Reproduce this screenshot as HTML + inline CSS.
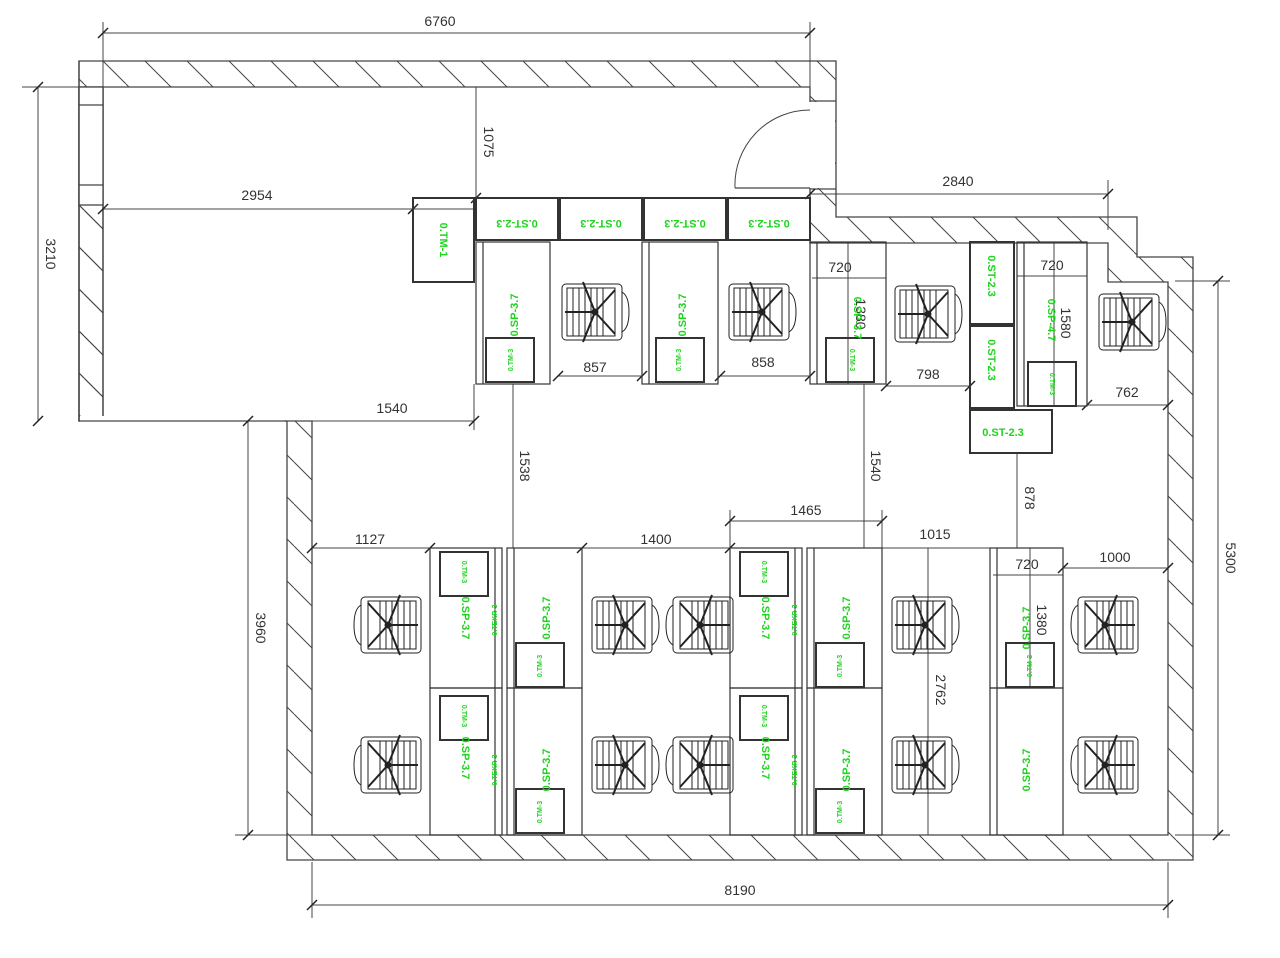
<!DOCTYPE html>
<html><head><meta charset="utf-8"><style>
html,body{margin:0;padding:0;background:#fff;}
svg{display:block}
text{font-family:"Liberation Sans",sans-serif;}
.d{font-size:14px;fill:#333}
.g{font-size:11px;fill:#1fd31f;font-weight:bold}
.gs{font-size:7px;fill:#1fd31f;font-weight:bold}
</style></head><body>
<svg width="1280" height="958" viewBox="0 0 1280 958" xmlns="http://www.w3.org/2000/svg">
<defs>
<pattern id="h" width="42" height="42" patternUnits="userSpaceOnUse">
<line x1="0" y1="0" x2="42" y2="42" stroke="#444" stroke-width="1"/>
<line x1="-42" y1="0" x2="0" y2="42" stroke="#444" stroke-width="1"/>
<line x1="42" y1="0" x2="84" y2="42" stroke="#444" stroke-width="1"/>
</pattern>
<g id="ch" stroke="#222" fill="none" stroke-width="1">
<rect x="-33" y="-28" width="60" height="56" rx="4"/>
<rect x="-28" y="-24" width="48" height="48"/>
<line x1="-22" y1="-24" x2="-22" y2="24"/><line x1="-16" y1="-24" x2="-16" y2="24"/>
<line x1="-10" y1="-24" x2="-10" y2="24"/><line x1="-4" y1="-24" x2="-4" y2="24"/>
<line x1="2" y1="-24" x2="2" y2="24"/><line x1="8" y1="-24" x2="8" y2="24"/>
<path d="M27 -20 Q34 -16 34 0 Q34 16 27 20"/>
<g stroke-width="2"><line x1="0" y1="0" x2="-30" y2="0"/><line x1="0" y1="0" x2="-12" y2="-30"/><line x1="0" y1="0" x2="20" y2="-22"/><line x1="0" y1="0" x2="20" y2="22"/><line x1="0" y1="0" x2="-12" y2="30"/></g>
<circle cx="0" cy="0" r="3" fill="#222"/>
</g>
<g id="tick"><line x1="-5" y1="5" x2="5" y2="-5" stroke="#222" stroke-width="1.5"/></g>
</defs>

<g stroke="#444" stroke-width="1.3">
<path d="M79 61 H836 V217 H1137 V257 H1193 V860 H287 V421 H79 Z" fill="url(#h)"/>
<path d="M103 87 H810 V243 H1108 V282 H1168 V835 H312 V421 H103 Z" fill="#fff"/>
<rect x="79" y="87" width="24" height="334" fill="url(#h)"/>
<rect x="79" y="87" width="24" height="118" fill="#fff"/>
<line x1="79" y1="105" x2="103" y2="105"/>
<line x1="79" y1="185" x2="103" y2="185"/>
<rect x="809" y="102" width="26" height="86" fill="#fff" stroke="none"/>
<line x1="810" y1="101" x2="836" y2="101"/><line x1="810" y1="189" x2="836" y2="189"/>
<path d="M735 188 A75 75 0 0 1 810 110" fill="none" stroke-width="1"/>
<line x1="735" y1="188" x2="810" y2="188"/>
<rect x="80" y="416" width="205" height="10" fill="#fff" stroke="none"/>
<line x1="79" y1="421" x2="287" y2="421"/>
<line x1="79" y1="61" x2="79" y2="421"/>
</g>

<g stroke="#444" stroke-width="1" fill="none">
<line x1="103" y1="33" x2="810" y2="33"/><line x1="103" y1="22" x2="103" y2="87"/><line x1="810" y1="22" x2="810" y2="87"/>
<line x1="38" y1="87" x2="38" y2="421"/><line x1="22" y1="87" x2="79" y2="87"/>
<line x1="103" y1="209" x2="476" y2="209"/>
<line x1="476" y1="87" x2="476" y2="198"/>
<line x1="810" y1="194" x2="1108" y2="194"/><line x1="1108" y1="180" x2="1108" y2="230"/>
<line x1="1218" y1="281" x2="1218" y2="835"/><line x1="1175" y1="281" x2="1230" y2="281"/><line x1="1175" y1="835" x2="1230" y2="835"/>
<line x1="248" y1="421" x2="248" y2="835"/><line x1="235" y1="835" x2="312" y2="835"/>
<line x1="312" y1="905" x2="1168" y2="905"/><line x1="312" y1="862" x2="312" y2="918"/><line x1="1168" y1="862" x2="1168" y2="918"/>
<line x1="248" y1="421" x2="474" y2="421"/><line x1="474" y1="384" x2="474" y2="430"/>
<line x1="513" y1="384" x2="513" y2="548"/>
<line x1="864" y1="384" x2="864" y2="548"/>
<line x1="1017" y1="453" x2="1017" y2="548"/>
<line x1="312" y1="548" x2="430" y2="548"/>
<line x1="582" y1="548" x2="730" y2="548"/>
<line x1="730" y1="521" x2="882" y2="521"/><line x1="730" y1="510" x2="730" y2="548"/><line x1="882" y1="510" x2="882" y2="548"/>
<line x1="882" y1="548" x2="990" y2="548"/>
<line x1="1063" y1="568" x2="1168" y2="568"/>
<line x1="928" y1="548" x2="928" y2="835"/>
<line x1="558" y1="376" x2="642" y2="376"/>
<line x1="720" y1="376" x2="810" y2="376"/>
<line x1="886" y1="386" x2="970" y2="386"/>
<line x1="1087" y1="405" x2="1168" y2="405"/>
<line x1="812" y1="278" x2="886" y2="278"/>
<line x1="1017" y1="276" x2="1087" y2="276"/>
<line x1="848" y1="243" x2="848" y2="384"/>
<line x1="1054" y1="243" x2="1054" y2="405"/>
<line x1="993" y1="575" x2="1063" y2="575"/>
<line x1="1030" y1="548" x2="1030" y2="688"/>
</g>
<g>
<use href="#tick" x="103" y="33"/><use href="#tick" x="810" y="33"/><use href="#tick" x="38" y="87"/><use href="#tick" x="38" y="421"/>
<use href="#tick" x="103" y="209"/><use href="#tick" x="413" y="209"/><use href="#tick" x="476" y="198"/>
<use href="#tick" x="810" y="194"/><use href="#tick" x="1108" y="194"/><use href="#tick" x="1218" y="281"/><use href="#tick" x="1218" y="835"/>
<use href="#tick" x="248" y="421"/><use href="#tick" x="474" y="421"/><use href="#tick" x="248" y="835"/><use href="#tick" x="312" y="905"/><use href="#tick" x="1168" y="905"/>
<use href="#tick" x="730" y="521"/><use href="#tick" x="882" y="521"/><use href="#tick" x="312" y="548"/><use href="#tick" x="430" y="548"/>
<use href="#tick" x="582" y="548"/><use href="#tick" x="730" y="548"/><use href="#tick" x="1063" y="568"/><use href="#tick" x="1168" y="568"/>
<use href="#tick" x="558" y="376"/><use href="#tick" x="642" y="376"/><use href="#tick" x="720" y="376"/><use href="#tick" x="810" y="376"/>
<use href="#tick" x="886" y="386"/><use href="#tick" x="970" y="386"/><use href="#tick" x="1087" y="405"/><use href="#tick" x="1168" y="405"/>
</g>

<g class="d">
<text x="440" y="26" text-anchor="middle" class="d">6760</text>
<text x="257" y="200" text-anchor="middle" class="d">2954</text>
<text x="958" y="186" text-anchor="middle" class="d">2840</text>
<text x="392" y="413" text-anchor="middle" class="d">1540</text>
<text x="595" y="372" text-anchor="middle" class="d">857</text>
<text x="763" y="367" text-anchor="middle" class="d">858</text>
<text x="928" y="379" text-anchor="middle" class="d">798</text>
<text x="1127" y="397" text-anchor="middle" class="d">762</text>
<text x="840" y="272" text-anchor="middle" class="d">720</text>
<text x="1052" y="270" text-anchor="middle" class="d">720</text>
<text x="370" y="544" text-anchor="middle" class="d">1127</text>
<text x="656" y="544" text-anchor="middle" class="d">1400</text>
<text x="806" y="515" text-anchor="middle" class="d">1465</text>
<text x="935" y="539" text-anchor="middle" class="d">1015</text>
<text x="1115" y="562" text-anchor="middle" class="d">1000</text>
<text x="1027" y="569" text-anchor="middle" class="d">720</text>
<text x="740" y="895" text-anchor="middle" class="d">8190</text>
<text transform="translate(46,254) rotate(90)" text-anchor="middle" class="d">3210</text>
<text transform="translate(484,142) rotate(90)" text-anchor="middle" class="d">1075</text>
<text transform="translate(520,466) rotate(90)" text-anchor="middle" class="d">1538</text>
<text transform="translate(871,466) rotate(90)" text-anchor="middle" class="d">1540</text>
<text transform="translate(1025,498) rotate(90)" text-anchor="middle" class="d">878</text>
<text transform="translate(1226,558) rotate(90)" text-anchor="middle" class="d">5300</text>
<text transform="translate(256,628) rotate(90)" text-anchor="middle" class="d">3960</text>
<text transform="translate(936,690) rotate(90)" text-anchor="middle" class="d">2762</text>
<text transform="translate(856,314) rotate(90)" text-anchor="middle" class="d">1380</text>
<text transform="translate(1061,323) rotate(90)" text-anchor="middle" class="d">1580</text>
<text transform="translate(1037,620) rotate(90)" text-anchor="middle" class="d">1380</text>
</g>

<g stroke="#333" stroke-width="1.2" fill="none">
<rect x="476" y="198" width="82" height="42" stroke-width="2"/><rect x="560" y="198" width="82" height="42" stroke-width="2"/>
<rect x="644" y="198" width="82" height="42" stroke-width="2"/><rect x="728" y="198" width="82" height="42" stroke-width="2"/>
<rect x="413" y="198" width="61" height="84" stroke-width="2"/>
<rect x="476" y="242" width="74" height="142"/><line x1="483" y1="242" x2="483" y2="384"/>
<rect x="642" y="242" width="76" height="142"/><line x1="649" y1="242" x2="649" y2="384"/>
<rect x="810" y="242" width="76" height="142"/><line x1="817" y1="242" x2="817" y2="384"/>
<rect x="1017" y="242" width="70" height="164"/><line x1="1024" y1="242" x2="1024" y2="406"/>
<rect x="970" y="242" width="44" height="82" stroke-width="2"/><rect x="970" y="326" width="44" height="82" stroke-width="2"/>
<rect x="970" y="410" width="82" height="43" stroke-width="2"/>
<rect x="486" y="338" width="48" height="44" stroke-width="2"/><rect x="656" y="338" width="48" height="44" stroke-width="2"/>
<rect x="826" y="338" width="48" height="44" stroke-width="2"/><rect x="1028" y="362" width="48" height="44" stroke-width="2"/>
<rect x="430" y="548" width="72" height="140"/><rect x="430" y="688" width="72" height="147"/>
<rect x="507" y="548" width="75" height="140"/><rect x="507" y="688" width="75" height="147"/>
<rect x="730" y="548" width="72" height="140"/><rect x="730" y="688" width="72" height="147"/>
<rect x="807" y="548" width="75" height="140"/><rect x="807" y="688" width="75" height="147"/>
<rect x="990" y="548" width="73" height="140"/><rect x="990" y="688" width="73" height="147"/>
<line x1="495" y1="548" x2="495" y2="835"/><line x1="514" y1="548" x2="514" y2="835"/>
<line x1="795" y1="548" x2="795" y2="835"/><line x1="814" y1="548" x2="814" y2="835"/>
<line x1="997" y1="548" x2="997" y2="835"/>
<rect x="440" y="552" width="48" height="44" stroke-width="2"/><rect x="440" y="696" width="48" height="44" stroke-width="2"/>
<rect x="516" y="643" width="48" height="44" stroke-width="2"/><rect x="516" y="789" width="48" height="44" stroke-width="2"/>
<rect x="740" y="552" width="48" height="44" stroke-width="2"/><rect x="740" y="696" width="48" height="44" stroke-width="2"/>
<rect x="816" y="643" width="48" height="44" stroke-width="2"/><rect x="816" y="789" width="48" height="44" stroke-width="2"/>
<rect x="1006" y="643" width="48" height="44" stroke-width="2"/>
</g>

<use href="#ch" transform="translate(595,312)"/>
<use href="#ch" transform="translate(762,312)"/>
<use href="#ch" transform="translate(928,314)"/>
<use href="#ch" transform="translate(1132,322)"/>
<use href="#ch" transform="translate(388,625) rotate(180)"/>
<use href="#ch" transform="translate(388,765) rotate(180)"/>
<use href="#ch" transform="translate(625,625)"/>
<use href="#ch" transform="translate(625,765)"/>
<use href="#ch" transform="translate(700,625) rotate(180)"/>
<use href="#ch" transform="translate(700,765) rotate(180)"/>
<use href="#ch" transform="translate(925,625)"/>
<use href="#ch" transform="translate(925,765)"/>
<use href="#ch" transform="translate(1105,625) rotate(180)"/>
<use href="#ch" transform="translate(1105,765) rotate(180)"/>

<g>
<text class="g" transform="translate(517,220) rotate(180)" text-anchor="middle">0.ST-2.3</text>
<text class="g" transform="translate(601,220) rotate(180)" text-anchor="middle">0.ST-2.3</text>
<text class="g" transform="translate(685,220) rotate(180)" text-anchor="middle">0.ST-2.3</text>
<text class="g" transform="translate(769,220) rotate(180)" text-anchor="middle">0.ST-2.3</text>
<text class="g" transform="translate(440,240) rotate(90)" text-anchor="middle">0.TM-1</text>
<text class="g" transform="translate(518,315) rotate(-90)" text-anchor="middle">0.SP-3.7</text>
<text class="g" transform="translate(686,315) rotate(-90)" text-anchor="middle">0.SP-3.7</text>
<text class="g" transform="translate(854,318) rotate(90)" text-anchor="middle">0.SP-3.7</text>
<text class="g" transform="translate(1048,320) rotate(90)" text-anchor="middle">0.SP-4.7</text>
<text class="g" transform="translate(988,276) rotate(90)" text-anchor="middle">0.ST-2.3</text>
<text class="g" transform="translate(988,360) rotate(90)" text-anchor="middle">0.ST-2.3</text>
<text class="g" x="1003" y="436" text-anchor="middle">0.ST-2.3</text>
<text class="gs" transform="translate(513,360) rotate(-90)" text-anchor="middle">0.TM-3</text>
<text class="gs" transform="translate(681,360) rotate(-90)" text-anchor="middle">0.TM-3</text>
<text class="gs" transform="translate(850,360) rotate(90)" text-anchor="middle">0.TM-3</text>
<text class="gs" transform="translate(1050,384) rotate(90)" text-anchor="middle">0.TM-3</text>
<text class="g" transform="translate(462,618) rotate(90)" text-anchor="middle">0.SP-3.7</text>
<text class="g" transform="translate(462,758) rotate(90)" text-anchor="middle">0.SP-3.7</text>
<text class="g" transform="translate(762,618) rotate(90)" text-anchor="middle">0.SP-3.7</text>
<text class="g" transform="translate(762,758) rotate(90)" text-anchor="middle">0.SP-3.7</text>
<text class="g" transform="translate(550,618) rotate(-90)" text-anchor="middle">0.SP-3.7</text>
<text class="g" transform="translate(550,770) rotate(-90)" text-anchor="middle">0.SP-3.7</text>
<text class="g" transform="translate(850,618) rotate(-90)" text-anchor="middle">0.SP-3.7</text>
<text class="g" transform="translate(850,770) rotate(-90)" text-anchor="middle">0.SP-3.7</text>
<text class="g" transform="translate(1030,628) rotate(-90)" text-anchor="middle">0.SP-3.7</text>
<text class="g" transform="translate(1030,770) rotate(-90)" text-anchor="middle">0.SP-3.7</text>
<text class="gs" transform="translate(497,620) rotate(-90)" text-anchor="middle">0.TEKR-3</text>
<text class="gs" transform="translate(497,770) rotate(-90)" text-anchor="middle">0.TEKR-3</text>
<text class="gs" transform="translate(797,620) rotate(-90)" text-anchor="middle">0.TEKR-3</text>
<text class="gs" transform="translate(797,770) rotate(-90)" text-anchor="middle">0.TEKR-3</text>
<text class="gs" transform="translate(462,572) rotate(90)" text-anchor="middle">0.TM-3</text>
<text class="gs" transform="translate(462,716) rotate(90)" text-anchor="middle">0.TM-3</text>
<text class="gs" transform="translate(762,572) rotate(90)" text-anchor="middle">0.TM-3</text>
<text class="gs" transform="translate(762,716) rotate(90)" text-anchor="middle">0.TM-3</text>
<text class="gs" transform="translate(542,666) rotate(-90)" text-anchor="middle">0.TM-3</text>
<text class="gs" transform="translate(542,812) rotate(-90)" text-anchor="middle">0.TM-3</text>
<text class="gs" transform="translate(842,666) rotate(-90)" text-anchor="middle">0.TM-3</text>
<text class="gs" transform="translate(842,812) rotate(-90)" text-anchor="middle">0.TM-3</text>
<text class="gs" transform="translate(1032,666) rotate(-90)" text-anchor="middle">0.TM-3</text>
</g>
</svg>
</body></html>
